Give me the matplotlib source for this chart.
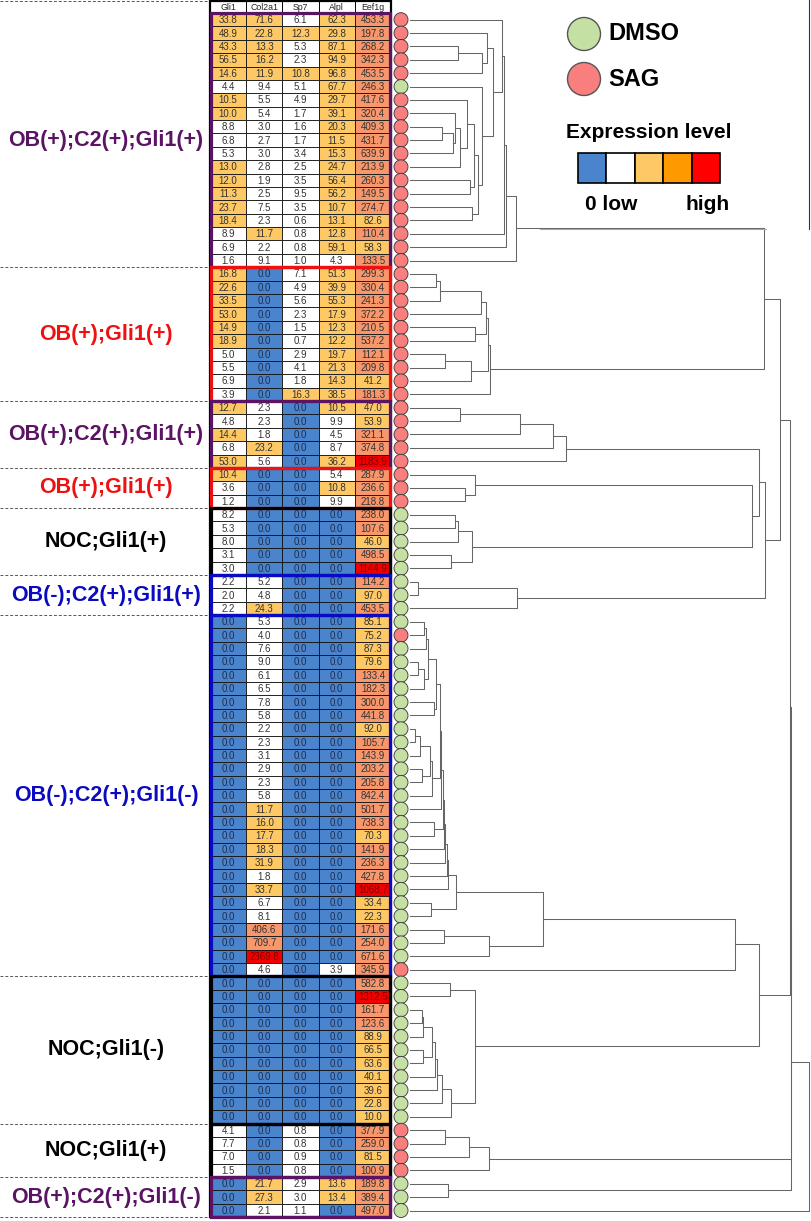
import matplotlib.pyplot as plt
from matplotlib.patches import Rectangle, Circle

plt.rcParams['font.family'] = ['Liberation Sans', 'DejaVu Sans']

genes = ['Gli1', 'Col2a1', 'Sp7', 'Alpl', 'Eef1g']

group_names = ['OB(+);C2(+);Gli1(+)', 'OB(+);Gli1(+)', 'OB(+);C2(+);Gli1(+)', 'OB(+);Gli1(+)',
               'NOC;Gli1(+)', 'OB(-);C2(+);Gli1(+)', 'OB(-);C2(+);Gli1(-)', 'NOC;Gli1(-)',
               'NOC;Gli1(+)', 'OB(+);C2(+);Gli1(-)']
group_sizes = [19, 10, 5, 3, 5, 3, 27, 11, 4, 3]
group_colors = ['#5b1463', '#ee1111', '#5b1463', '#ee1111', '#000000', '#0a0ac0',
                '#0a0ac0', '#000000', '#000000', '#5b1463']

gli1 = [33.8, 48.9, 43.3, 56.5, 14.6, 4.4, 10.5, 10.0, 8.8, 6.8, 5.3, 13.0, 12.0, 11.3, 23.7, 18.4, 8.9, 6.9, 1.6,
        16.8, 22.6, 33.5, 53.0, 14.9, 18.9, 5.0, 5.5, 6.9, 3.9,
        12.7, 4.8, 14.4, 6.8, 53.0,
        10.4, 3.6, 1.2,
        8.2, 5.3, 8.0, 3.1, 3.0,
        2.2, 2.0, 2.2,
        0, 0, 0, 0, 0, 0, 0, 0, 0, 0, 0, 0, 0, 0, 0, 0, 0, 0, 0, 0, 0, 0, 0, 0, 0, 0, 0,
        0, 0, 0, 0, 0, 0, 0, 0, 0, 0, 0,
        4.1, 7.7, 7.0, 1.5,
        0, 0, 0]
col2a1 = [71.6, 22.8, 13.3, 16.2, 11.9, 9.4, 5.5, 5.4, 3.0, 2.7, 3.0, 2.8, 1.9, 2.5, 7.5, 2.3, 11.7, 2.2, 9.1,
          0, 0, 0, 0, 0, 0, 0, 0, 0, 0,
          2.3, 2.3, 1.8, 23.2, 5.6,
          0, 0, 0,
          0, 0, 0, 0, 0,
          5.2, 4.8, 24.3,
          5.3, 4.0, 7.6, 9.0, 6.1, 6.5, 7.8, 5.8, 2.2, 2.3, 3.1, 2.9, 2.3, 5.8, 11.7, 16.0, 17.7, 18.3,
          31.9, 1.8, 33.7, 6.7, 8.1, 406.6, 709.7, 2369.8, 4.6,
          0, 0, 0, 0, 0, 0, 0, 0, 0, 0, 0,
          0, 0, 0, 0,
          21.7, 27.3, 2.1]
sp7 = [6.1, 12.3, 5.3, 2.3, 10.8, 5.1, 4.9, 1.7, 1.6, 1.7, 3.4, 2.5, 3.5, 9.5, 3.5, 0.6, 0.8, 0.8, 1.0,
       7.1, 4.9, 5.6, 2.3, 1.5, 0.7, 2.9, 4.1, 1.8, 16.3,
       0, 0, 0, 0, 0,
       0, 0, 0,
       0, 0, 0, 0, 0,
       0, 0, 0,
       0, 0, 0, 0, 0, 0, 0, 0, 0, 0, 0, 0, 0, 0, 0, 0, 0, 0, 0, 0, 0, 0, 0, 0, 0, 0, 0,
       0, 0, 0, 0, 0, 0, 0, 0, 0, 0, 0,
       0.8, 0.8, 0.9, 0.8,
       2.9, 3.0, 1.1]
alpl = [62.3, 29.8, 87.1, 94.9, 96.8, 67.7, 29.7, 39.1, 20.3, 11.5, 15.3, 24.7, 56.4, 56.2, 10.7, 13.1, 12.8, 59.1, 4.3,
        51.3, 39.9, 55.3, 17.9, 12.3, 12.2, 19.7, 21.3, 14.3, 38.5,
        10.5, 9.9, 4.5, 8.7, 36.2,
        5.4, 10.8, 9.9,
        0, 0, 0, 0, 0,
        0, 0, 0,
        0, 0, 0, 0, 0, 0, 0, 0, 0, 0, 0, 0, 0, 0, 0, 0, 0, 0, 0, 0, 0, 0, 0, 0, 0, 0, 3.9,
        0, 0, 0, 0, 0, 0, 0, 0, 0, 0, 0,
        0, 0, 0, 0,
        13.6, 13.4, 0.0]
eef1g = [453.3, 197.8, 268.2, 342.3, 453.5, 246.3, 417.6, 320.4, 409.3, 431.7, 639.9, 213.9, 260.3, 149.5,
         274.7, 82.6, 110.4, 58.3, 133.5,
         299.3, 330.4, 241.3, 372.2, 210.5, 537.2, 112.1, 209.8, 41.2, 181.3,
         47.0, 53.9, 321.1, 374.8, 1183.9,
         287.9, 236.6, 218.8,
         238.0, 107.6, 46.0, 498.5, 1144.9,
         114.2, 97.0, 453.5,
         85.1, 75.2, 87.3, 79.6, 133.4, 182.3, 300.0, 441.8, 92.0, 105.7, 143.9, 203.2, 205.8, 842.4,
         501.7, 738.3, 70.3, 141.9, 236.3, 427.8, 1068.7, 33.4, 22.3, 171.6, 254.0, 671.6, 345.9,
         582.8, 1312.5, 161.7, 123.6, 88.9, 66.5, 63.6, 40.1, 39.6, 22.8, 10.0,
         377.9, 259.0, 81.5, 100.9,
         189.8, 389.4, 497.0]
# S = SAG, D = DMSO
treatment = ('SSSSSDSSSSSSSSSSSSS' 'SSSSSSSSSS' 'SSSSS' 'SSS' 'DDDDD' 'DDD'
             'DSDDDDDDDDDDDDDDDDDDDDDDDDS' 'DDDDDDDDDDD' 'SSSS' 'DDD')

# dendrogram merges: (left, right, distance); leaves are row numbers
t_a = ((2, 3, 48), 4, 72)
t_c = (1, t_a, 77)
t_i = ((7, ((8, 9, 32), 10, 43), 45), 11, 50)
t_l = (((6, t_i, 57), (12, 13, 60), 64), (14, 15, 62), 68)
t_top = (0, (t_c, (5, t_l, 72), 83), 92)
g1 = (((t_top, 16, 94), 17, 96), 18, 106)
t_p5 = ((((19, 20, 26), 21, 30), 22, 71), (23, 24, 65), 76)
g2 = ((t_p5, ((25, 26, 35), 27, 61), 78), 28, 80)
g3 = ((((29, 30, 50), 31, 110), 32, 143), 33, 156)
g4 = (34, (35, 36, 55), 65)
g5 = (((37, 38, 45), 39, 48), (40, 41, 41), 62)
g6 = ((42, 43, 8), 44, 107)
upper = ((g1, g2, 354), ((g3, (g4, g5, 342), 349), g6, 355), 370)
t_v = ((((45, 46, 14), 47, 16), ((48, 49, 8), 50, 14), 18), (51, 52, 24), 26)
t_w = ((((53, 54, 5), 55, 10), (56, 57, 12), 20), 58, 22)
t_x = ((((((t_v, t_w, 30), 59, 31), (60, 61, 24), 33), 62, 34), 63, 35), 64, 37)
g7 = ((((t_x, 65, 38), (66, 67, 21), 46), ((68, 69, 34), 70, 79), 133), 71, 325)
t_z = ((((((74, 75, 12), 76, 13), (77, 78, 13), 22), 79, 25), 80, 27), 81, 32)
g8 = ((72, 73, 40), (t_z, 82, 41), 65)
g9 = (((83, 84, 35), 85, 59), 86, 79)
tree = ((((upper, (g7, g8, 349), 380), g9, 380.5), (87, 88, 38), 381), 89, 399)

columns = [gli1, col2a1, sp7, alpl, eef1g]

# layout (pixels)
TOP = 13.0
ROW_H = 13.38
X0 = 210.0
COL_W = 36.2
CIRC_X = 401.0
DEND_X = 410.5


def cell_color(v):
    if v == 0:
        return '#4a84cc'
    if v < 10:
        return '#ffffff'
    if v < 100:
        return '#fec864'
    if v < 1000:
        return '#f7976b'
    return '#f20000'


def text_color(v):
    if v == 0:
        return '#1f2d4d'
    if v >= 1000:
        return '#7a0000'
    return '#333333'


fig = plt.figure(figsize=(8.12, 12.21), dpi=100)
ax = fig.add_axes([0, 0, 1, 1])
ax.set_xlim(0, 812)
ax.set_ylim(1221, 0)
ax.axis('off')

n_rows = len(eef1g)

# header
for j, g in enumerate(genes):
    ax.add_patch(Rectangle((X0 + j * COL_W, 0.5), COL_W, TOP - 0.5, facecolor='white',
                           edgecolor='black', lw=0.7, zorder=2))
    ax.text(X0 + (j + 0.5) * COL_W, TOP / 2 + 0.5, g, ha='center', va='center',
            fontsize=6.3, color='#222222', zorder=3)

# cells
for j, col in enumerate(columns):
    for i, v in enumerate(col):
        y = TOP + i * ROW_H
        ax.add_patch(Rectangle((X0 + j * COL_W, y), COL_W, ROW_H, facecolor=cell_color(v),
                               edgecolor='#111111', lw=0.6, zorder=2))
        ax.text(X0 + (j + 0.5) * COL_W, y + ROW_H / 2 + 0.5, f'{v:.1f}', ha='center',
                va='center', fontsize=7, color=text_color(v), zorder=3)

# treatment circles
for i, t in enumerate(treatment):
    fc = '#c4e0a2' if t == 'D' else '#f97e7e'
    ax.add_patch(Circle((CIRC_X, TOP + (i + 0.5) * ROW_H), 7, facecolor=fc,
                        edgecolor='#333333', lw=0.6, zorder=1))

# outer border
ax.add_patch(Rectangle((X0, 0.5), 5 * COL_W, TOP - 0.5 + n_rows * ROW_H, fill=False,
                       edgecolor='black', lw=1.6, zorder=4))

# groups
ax.plot([0, X0 - 2], [0.7, 0.7], color='#555555', lw=0.7, ls=(0, (3, 2)))
start = 0
for name, size, color in zip(group_names, group_sizes, group_colors):
    y0 = TOP + start * ROW_H
    ax.add_patch(Rectangle((X0 + 1.2, y0), 5 * COL_W - 2.4, size * ROW_H, fill=False,
                           edgecolor=color, lw=2.3, zorder=5))
    ax.text(106, y0 + size * ROW_H / 2, name, ha='center', va='center', fontsize=15.5,
            fontweight='bold', color=color)
    start += size
    ax.plot([0, X0 - 2], [TOP + start * ROW_H] * 2, color='#555555', lw=0.7,
            ls=(0, (3, 2)))


# dendrogram
def draw(node):
    if isinstance(node, int):
        return TOP + (node + 0.5) * ROW_H, 0.0
    left, right, d = node
    yl, dl = draw(left)
    yr, dr = draw(right)
    x = DEND_X + d
    ax.plot([DEND_X + dl, x, x, DEND_X + dr], [yl, yl, yr, yr], color='#666666', lw=0.75)
    return (yl + yr) / 2, d


draw(tree)

# legend
ax.add_patch(Circle((584, 34), 16.5, facecolor='#c4e0a2', edgecolor='#555555', lw=1))
ax.text(608, 34, 'DMSO', ha='left', va='center', fontsize=17, fontweight='bold')
ax.add_patch(Circle((584, 79), 16.5, facecolor='#f97e7e', edgecolor='#555555', lw=1))
ax.text(608, 79, 'SAG', ha='left', va='center', fontsize=17, fontweight='bold')
ax.text(649, 132, 'Expression level', ha='center', va='center', fontsize=15,
        fontweight='bold')
legend_colors = ['#4a84cc', '#ffffff', '#fec864', '#ff9900', '#ff0000']
for k, c in enumerate(legend_colors):
    ax.add_patch(Rectangle((578 + k * 28.5, 153), 28.5, 30, facecolor=c,
                           edgecolor='black', lw=1.2))
ax.text(585, 204, '0 low', ha='left', va='center', fontsize=15, fontweight='bold')
ax.text(730, 204, 'high', ha='right', va='center', fontsize=15, fontweight='bold')
ax.plot([540, 766], [229, 229], color='#aaaaaa', lw=0.8)
ax.plot([809, 809], [0, 229], color='#333333', lw=0.8)

fig.savefig('out.png', dpi=100)
